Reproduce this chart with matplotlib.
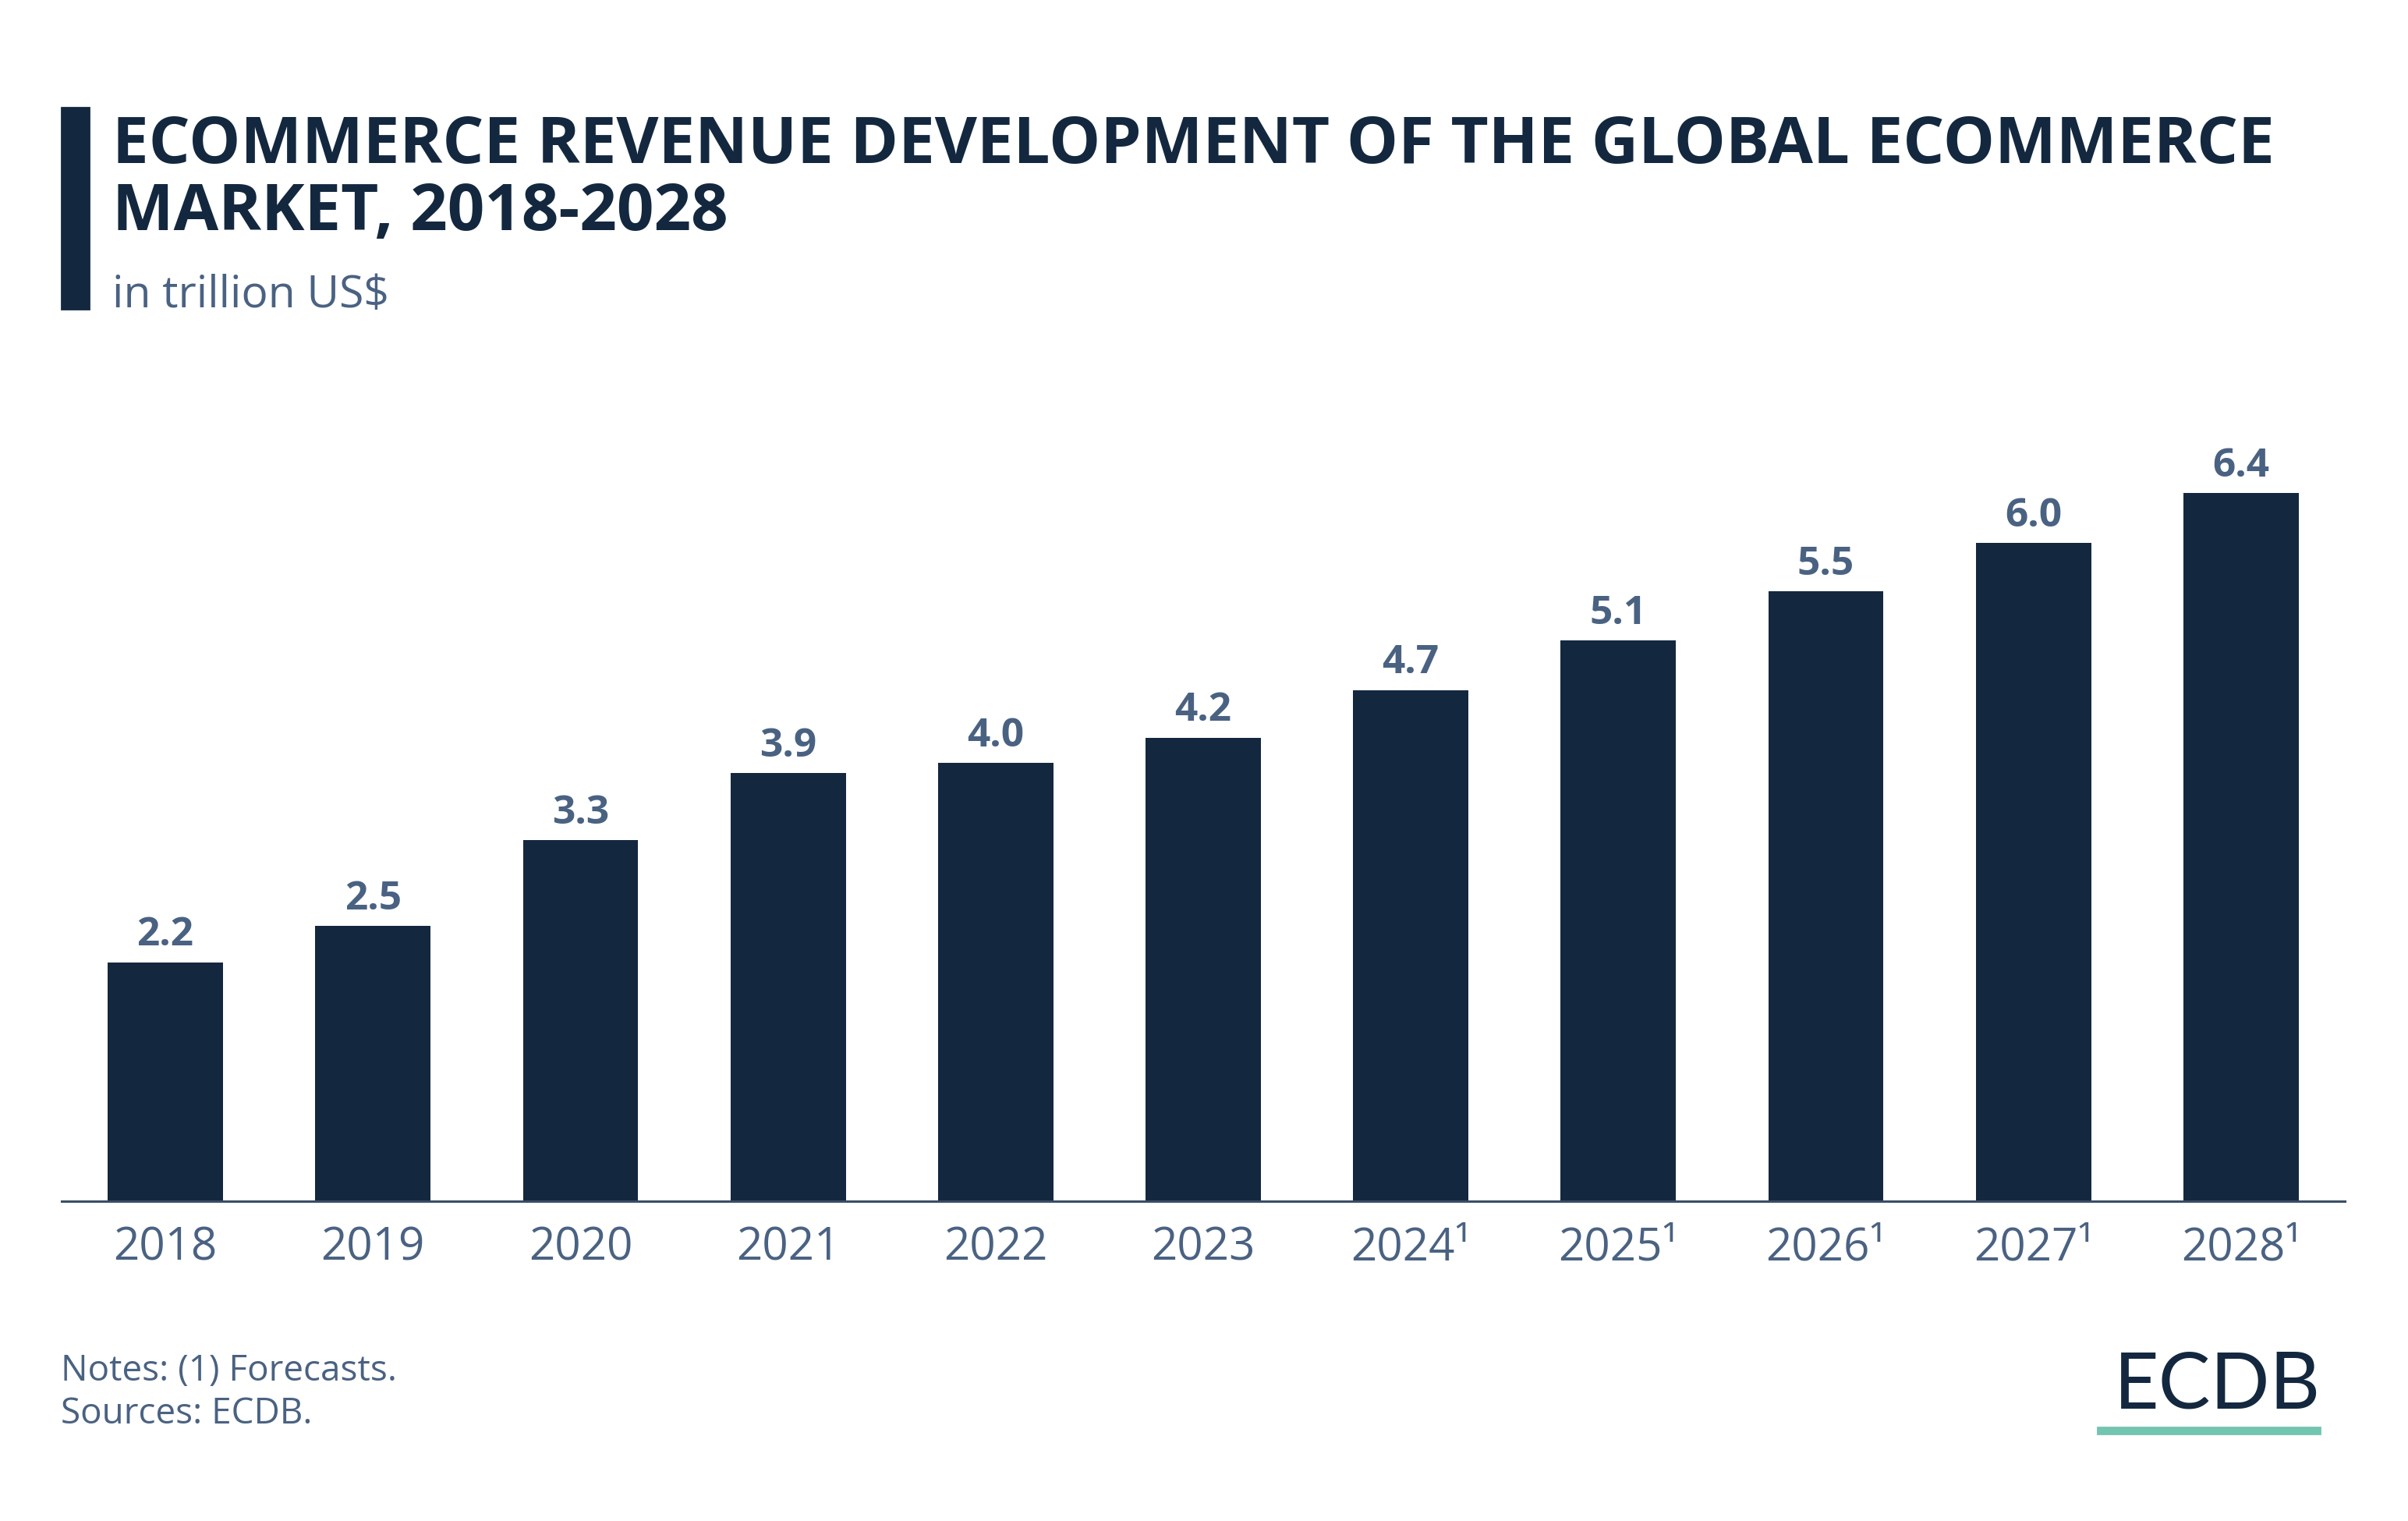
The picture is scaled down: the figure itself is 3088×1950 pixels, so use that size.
import matplotlib
matplotlib.use("Agg")
import matplotlib.pyplot as plt
from matplotlib.patches import Rectangle

# data (bar heights, labels as printed)
years = ["2018", "2019", "2020", "2021", "2022", "2023",
         "2024¹", "2025¹", "2026¹", "2027¹", "2028¹"]
revenue = [2.16, 2.49, 3.26, 3.87, 3.96, 4.19, 4.62, 5.07, 5.51, 5.95, 6.4]
labels = ["2.2", "2.5", "3.3", "3.9", "4.0", "4.2", "4.7", "5.1", "5.5", "6.0", "6.4"]

navy = "#13283f"
slate = "#4a6282"

W, H = 3088, 1950
fig = plt.figure(figsize=(W / 200, H / 200), dpi=200)
fig.patch.set_facecolor("white")

# axes placed in pixel layout
ax_left, ax_right = 79, 3007
ax_bottom, ax_top = 1540, 500
ax = fig.add_axes([ax_left / W, 1 - ax_bottom / H, (ax_right - ax_left) / W, (ax_bottom - ax_top) / H])

x = range(len(years))
ax.bar(x, revenue, width=0.555, color=navy, zorder=2)
for xi, v, lab in zip(x, revenue, labels):
    ax.annotate(lab, (xi, v), xytext=(0, 7.6), textcoords="offset points",
                ha="center", va="baseline", fontsize=18.5, fontweight="bold",
                color=slate, family="Open Sans")

ax.set_xlim(-0.5, 10.5)
ax.set_ylim(0, 6.4 * (ax_bottom - ax_top) / (ax_bottom - 632))
ax.set_xticks(list(x))
ax.set_xticklabels(years, fontsize=21, color=slate, family="Open Sans")
ax.tick_params(axis="x", length=0, pad=11)
ax.set_yticks([])
for s in ["top", "right", "left"]:
    ax.spines[s].set_visible(False)
ax.spines["bottom"].set_color("#3a4d66")
ax.spines["bottom"].set_linewidth(1.1)
ax.spines["bottom"].set_zorder(3)

# title block
fig.patches.append(Rectangle((79 / W, 1 - 396 / H), 35 / W, 258 / H,
                             transform=fig.transFigure, color=navy))
fig.text(144 / W, 1 - 209 / H, "ECOMMERCE REVENUE DEVELOPMENT OF THE GLOBAL ECOMMERCE",
         fontsize=30, fontweight="bold", color=navy, family="Open Sans", va="baseline")
fig.text(144 / W, 1 - 295 / H, "MARKET, 2018-2028",
         fontsize=30, fontweight="bold", color=navy, family="Open Sans", va="baseline")
fig.text(144 / W, 1 - 394 / H, "in trillion US$",
         fontsize=20.5, color=slate, family="Open Sans", va="baseline")

# footer
fig.text(78 / W, 1 - 1770 / H, "Notes: (1) Forecasts.",
         fontsize=16.5, color=slate, family="Open Sans", va="baseline")
fig.text(78 / W, 1 - 1825 / H, "Sources: ECDB.",
         fontsize=16.5, color=slate, family="Open Sans", va="baseline")

# logo
fig.text(2976 / W, 1 - 1806 / H, "ECDB", fontsize=36, color=navy,
         family="Lato", va="baseline", ha="right")
fig.patches.append(Rectangle((2690 / W, 1 - 1838 / H), 285 / W, 8 / H,
                             transform=fig.transFigure, color="#72c5b0"))

fig.savefig("out.png", dpi=200, facecolor="white")
